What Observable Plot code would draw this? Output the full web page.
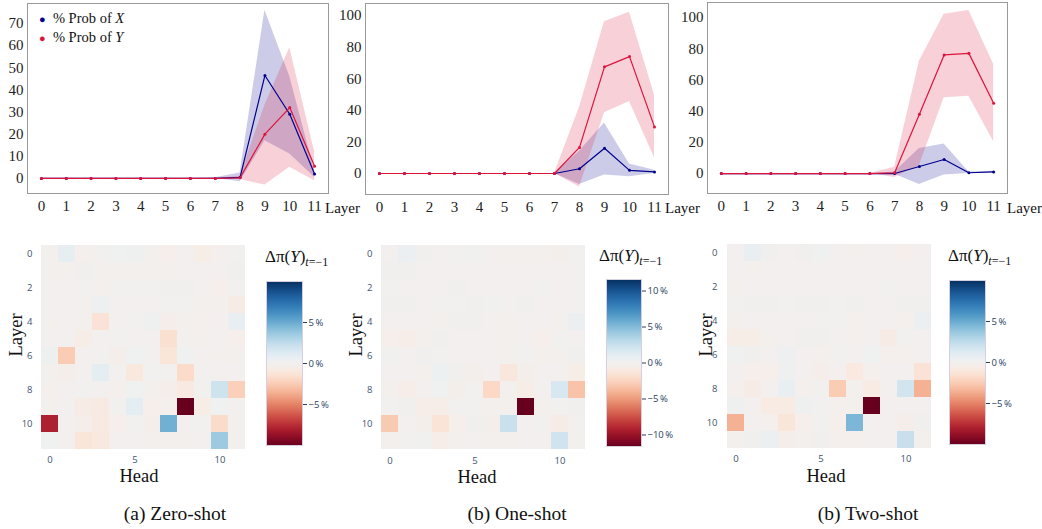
<!DOCTYPE html>
<html><head><meta charset="utf-8">
<script src="https://cdn.jsdelivr.net/npm/d3@7"></script>
<script src="https://cdn.jsdelivr.net/npm/@observablehq/plot@0.6"></script>
<style>
body{margin:0;background:#fff;}
#root{position:relative;width:1042px;height:529px;overflow:hidden;font-family:"Liberation Serif",serif;color:#111;}
.abs{position:absolute;white-space:nowrap;line-height:1;}
</style></head><body><div id="root"></div>
<script>
// ---------- data ----------
const layers = [0,1,2,3,4,5,6,7,8,9,10,11];
const heads  = [0,1,2,3,4,5,6,7,8,9,10,11];

// Zero-shot line panel
const zeroX   = [0,0,0,0,0,0,0,0,0.5,46.5,29,2];
const zeroXlo = [0,0,0,0,0,0,0,0,-1.5,17,11,0.5];
const zeroXhi = [0,0,0,0,0,0,0,0.3,2.5,76,46,3.5];
const zeroY   = [0,0,0,0,0,0,0,0,0.3,20,32,5.5];
const zeroYlo = [0,0,0,0,0,0,0,0,-0.5,-3,5,-1];
const zeroYhi = [0,0,0,0,0,0,0,0,1,33,59,12];
// One-shot line panel
const oneX   = [0,0,0,0,0,0,0,0,3,16,2,1];
const oneXlo = [0,0,0,0,0,0,0,0,-7,-1,-2,0];
const oneXhi = [0,0,0,0,0,0,0,0,14,32,6,2];
const oneY   = [0,0,0,0,0,0,0,0,16.5,67.5,74,29.5];
const oneYlo = [0,0,0,0,0,0,0,0,-8.5,38.5,45.5,10];
const oneYhi = [0,0,0,0,0,0,0,0,42,96,102,49.5];
// Two-shot line panel
const twoX   = [0,0,0,0,0,0,0,0,4.5,9,0.5,1];
const twoXlo = [0,0,0,0,0,0,0,-0.5,-7,-1,0,0.5];
const twoXhi = [0,0,0,0,0,0,0,1,16,19,1,1.5];
const twoY   = [0,0,0,0,0,0,0,0.5,38,76,77,45];
const twoYlo = [0,0,0,0,0,0,0,-2.5,5,48.5,49.5,20.5];
const twoYhi = [0,0,0,0,0,0,0,4,72,102,104.5,70];

const zeroTicks = [0,10,20,30,40,50,60,70];
const shotTicks = [0,20,40,60,80,100];

// Heatmaps: rows = layer, columns = head, values in %
const zeroHeat = [
 [-0.1, 0.8,-0.2, 0.1, 0.2, 0.3,-0.1,-0.3, 0,  -0.5,-0.2, 0.1],
 [-0.1,-0.1, 0.05,-0.1,-0.1,-0.1,-0.05,-0.05,0, 0,   0,   0.05],
 [ 0,   0,   0.1,-0.2, 0.1, 0.1, 0.1, 0.05,0.05,0,  -0.3, 0.1],
 [ 0,   0,  -0.05,0.4, 0,   0,   0,   0.1, 0.1,-0.1,-0.1,-0.6],
 [-0.1, 0,  -0.1,-1.3, 0,   0.1, 0.3,-0.4,-0.1,-0.2, 0,   0.7],
 [ 0,   0,  -0.5, 0,   0.1, 0,   0,  -1.5, 0,  -0.1, 0,  -0.3],
 [ 0.3,-2.5, 0,   0.1,-0.4, 0.2, 0,  -1.2, 0.2, 0,  -0.1,-0.1],
 [-0.1,-0.4, 0,   1.0, 0.1,-1.0, 0.1, 0.1,-1.8, 0.1, 0,   0],
 [-0.2, 0,   0.1, 0,  -0.2, 0.2,-0.1,-0.4,-0.8, 0.1, 2.0,-2.3],
 [-0.1, 0,  -0.6,-0.8, 0.1, 1.0,-0.3,-0.2,-10, -0.5, 0.2, 0],
 [-8,   0,  -0.4,-0.8,-0.3, 0.1,-0.4, 4.8, 0,   0.1,-1.8,-0.1],
 [ 0.2, 0,  -1.2,-1.0, 0,   0,  -0.1,-0.1,-0.1, 0,   3.6,-0.1]
];
const oneHeat = [
 [ 0,   0.6, 0.05,0,   0.1, 0.15,0,  -0.1,-0.05,-0.1,-0.3, 0.1],
 [ 0.05,0.05,0,   0,   0,   0,   0,   0,   0,   0,   0,   0],
 [ 0.1, 0,   0,   0,   0.05,0,   0,   0,   0,   0.1, 0,   0],
 [ 0.05,0.05,0,   0.1, 0.1, 0.05,0.2, 0,   0.05,0,   0,   0],
 [ 0,   0,   0,  -0.1, 0.05,0.05,0,  -0.2, 0,   0,  -0.1, 0.5],
 [-0.4,-0.5,-0.2, 0.05,0,   0,   0,  -0.2, 0,  -0.4, 0.1, 0],
 [ 0.2, 0,   0.05,0.1, 0,   0,   0,  -0.1, 0.1,-0.1,-0.1, 0.05],
 [ 0,   0,  -0.1, 0.4, 0.05,-0.3,0,  -1.2,-0.3, 0,   0,  -0.6],
 [-0.1,-0.5, 0,   0.3,-0.3, 0.1,-2.2,-0.1,-0.6, 0,   1.8,-3.3],
 [ 0.1, 0.05,-0.5,-0.5,0.1, 0.1,-0.2,-0.2,-11.6,-0.1,0.1, 0.05],
 [-3.0, 0,  -0.3,-1.5,-0.4, 0.05,-0.3,2.5, 0,   0.1,-0.7, 0],
 [-0.1, 0.1, 0.2,-0.5,-0.1, 0,  -0.1,-0.2, 0,   0,   2.2,-0.1]
];
const twoHeat = [
 [ 0,   0.7, 0.05,0,   0.05,0.2, 0,  -0.1, 0,   0,  -0.3, 0],
 [ 0,  -0.05,0,   0,   0,   0,   0,   0,   0,   0,   0,   0],
 [-0.05,0,   0,   0,   0,   0,   0,   0,   0,   0.1, 0,   0],
 [ 0.1, 0.05,0.05,0.1, 0.05,0.05,0.1, 0.05,0,   0,   0.05,0.05],
 [-0.1, 0,   0,   0,   0,   0.1, 0.1,-0.2, 0,   0,  -0.2, 0.5],
 [-0.5,-0.5,-0.1, 0,   0.05,0.05,0,  -0.2, 0,  -0.6, 0.1, 0],
 [ 0.2, 0.05,0,   0.4, 0,  -0.2, 0.1, 0,   0.2,-0.2,-0.2, 0],
 [ 0,  -0.3,-0.3, 0.3, 0,  -0.4, 0,  -0.9,-0.2, 0,   0,  -1.3],
 [-0.2,-0.6, 0,   0.7,-0.2, 0.1,-2.5,-0.1,-0.7, 0,   1.8,-3.5],
 [ 0.3, 0,  -0.7,-0.7, 0.3, 0.1,-0.2,-0.1,-10,  0,   0,   0],
 [-3.5, 0,  -0.2,-1.2,-0.3, 0.1,-0.3, 4.5, 0,   0,  -0.4, 0.05],
 [-0.1, 0.05,0.5,-0.4,-0.1, 0.05,-0.2,-0.2,0,   0,   2.2,-0.1]
];

const BLUE = "#00008b", RED = "#dc143c";
const root = document.getElementById("root");

function put(el, left, top) {
  const d = document.createElement("div");
  d.className = "abs"; d.style.left = left + "px"; d.style.top = top + "px";
  d.appendChild(el); root.appendChild(d); return d;
}
function text(html, x, y, {size = 15, anchor = "start", rotate = 0, font = "'Liberation Serif', serif", color = "#111"} = {}) {
  const d = document.createElement("div");
  d.className = "abs"; d.innerHTML = html;
  d.style.left = x + "px"; d.style.top = y + "px";
  d.style.fontSize = size + "px"; d.style.fontFamily = font; d.style.color = color;
  const tx = anchor === "middle" ? "-50%" : "0";
  d.style.transform = `translate(${tx},-50%)` + (rotate ? ` rotate(${rotate}deg)` : "");
  d.style.transformOrigin = "center";
  root.appendChild(d); return d;
}

function lineChart(X, Xlo, Xhi, Y, Ylo, Yhi, ydom, yticks, m) {
  const rows = layers.map((l, i) => ({layer: l, x: X[i], xlo: Xlo[i], xhi: Xhi[i], y: Y[i], ylo: Ylo[i], yhi: Yhi[i]}));
  return Plot.plot({
    width: 345, height: 220,
    marginLeft: m[0], marginRight: m[1], marginTop: m[2], marginBottom: m[3],
    x: {domain: [-0.56, 11.56], ticks: layers, tickSize: 0, tickPadding: 7, label: null},
    y: {domain: ydom, ticks: yticks, tickSize: 0, tickPadding: 4, label: null},
    style: {fontFamily: "'Liberation Serif', serif", fontSize: "15px", color: "#222", background: "transparent"},
    marks: [
      Plot.areaY(rows, {x: "layer", y1: "xlo", y2: "xhi", fill: BLUE, fillOpacity: 0.2}),
      Plot.areaY(rows, {x: "layer", y1: "ylo", y2: "yhi", fill: RED, fillOpacity: 0.2}),
      Plot.line(rows, {x: "layer", y: "x", stroke: BLUE, strokeWidth: 1.2}),
      Plot.dot(rows, {x: "layer", y: "x", fill: BLUE, r: 1.5}),
      Plot.line(rows, {x: "layer", y: "y", stroke: RED, strokeWidth: 1.2}),
      Plot.dot(rows, {x: "layer", y: "y", fill: RED, r: 1.5}),
      Plot.frame({stroke: "#9a9a9a"})
    ]
  });
}

function heatmap(mat, maxAbs, w, h) {
  const cells = mat.flatMap((row, i) => row.map((v, j) => ({layer: layers[i], head: heads[j], v})));
  return Plot.plot({
    width: w + 24, height: h + 18,
    marginLeft: 22, marginRight: 2, marginTop: 2, marginBottom: 16,
    x: {type: "band", domain: heads, padding: 0, ticks: [0, 5, 10], tickSize: 0, tickPadding: 3, label: null},
    y: {type: "band", domain: layers, padding: 0, ticks: [0, 2, 4, 6, 8, 10], tickSize: 0, tickPadding: 5, label: null},
    color: {type: "diverging", scheme: "rdbu", domain: [-maxAbs, maxAbs]},
    style: {fontFamily: "'Open Sans', sans-serif", fontSize: "9.5px", color: "#44546f", background: "transparent"},
    marks: [Plot.cell(cells, {x: "head", y: "layer", fill: "v", inset: 0})]
  });
}

function colorbar(maxAbs, ticks, w, h) {
  return Plot.plot({
    width: w + 40, height: h + 10,
    marginLeft: 0, marginRight: 40, marginTop: 5, marginBottom: 5,
    x: {domain: [0, 1], axis: null},
    y: {domain: [-maxAbs, maxAbs], axis: "right", ticks, tickSize: 4, tickPadding: 2, label: null,
        tickFormat: d => (d < 0 ? "\u2212" : "") + Math.abs(d) + "\u2009%"},
    color: {type: "diverging", scheme: "rdbu", domain: [-maxAbs, maxAbs]},
    style: {fontFamily: "'Open Sans', sans-serif", fontSize: "9.5px", color: "#2a3f5f", background: "transparent"},
    marks: [
      Plot.raster({x1: 0, x2: 1, y1: -maxAbs, y2: maxAbs, fill: (x, y) => y}),
      Plot.frame({stroke: "#d6cfe0"})
    ]
  });
}

// ---------- top line charts ----------
put(lineChart(zeroX, zeroXlo, zeroXhi, zeroY, zeroYlo, zeroYhi, [-6.8, 79], zeroTicks, [27, 17, 3, 27]), 0, 0);
put(lineChart(oneX, oneXlo, oneXhi, oneY, oneYlo, oneYhi, [-13.3, 107.6], shotTicks, [25, 17, 3, 26]), 340, 0);
put(lineChart(twoX, twoXlo, twoXhi, twoY, twoYlo, twoYhi, [-12.8, 109.6], shotTicks, [27, 18, 2, 27]), 680, 0);

text("Layer", 325, 208);
text("Layer", 665, 208);
text("Layer", 1007, 208);

// legend (panel a)
text(`<span style="color:${BLUE};font-size:11px">●</span>&nbsp;&nbsp;% Prob of <i>X</i>`, 39, 18, {size: 14.5});
text(`<span style="color:${RED};font-size:11px">●</span>&nbsp;&nbsp;% Prob of <i>Y</i>`, 39, 37, {size: 14.5});

// ---------- heatmaps ----------
put(heatmap(zeroHeat, 10, 212, 212), 15, 239);
put(heatmap(oneHeat, 11.6, 211, 215), 355, 237);
put(heatmap(twoHeat, 10, 214, 213), 700, 237);

put(colorbar(10, [-5, 0, 5], 36, 164), 266, 276);
put(colorbar(11.6, [-10, -5, 0, 5, 10], 35, 167), 606, 274);
put(colorbar(10, [-5, 0, 5], 36, 164), 949, 275);

const title = `\u0394\u03c0(<i>Y</i>)<sub style="font-size:12px"><i>t</i>=\u22121</sub>`;
text(title, 265, 258, {size: 17});
text(title, 599, 257, {size: 17});
text(title, 948, 257, {size: 17});

text("Layer", 16, 335, {size: 18.5, anchor: "middle", rotate: -90});
text("Layer", 356, 335, {size: 18.5, anchor: "middle", rotate: -90});
text("Layer", 706, 335, {size: 18.5, anchor: "middle", rotate: -90});
text("Head", 139, 476, {size: 18.5, anchor: "middle"});
text("Head", 477, 477, {size: 18.5, anchor: "middle"});
text("Head", 826, 476, {size: 18.5, anchor: "middle"});

text("(a) Zero-shot", 175, 514, {size: 19.5, anchor: "middle"});
text("(b) One-shot", 517, 514, {size: 19.5, anchor: "middle"});
text("(b) Two-shot", 868, 514, {size: 19.5, anchor: "middle"});
</script></body></html>
